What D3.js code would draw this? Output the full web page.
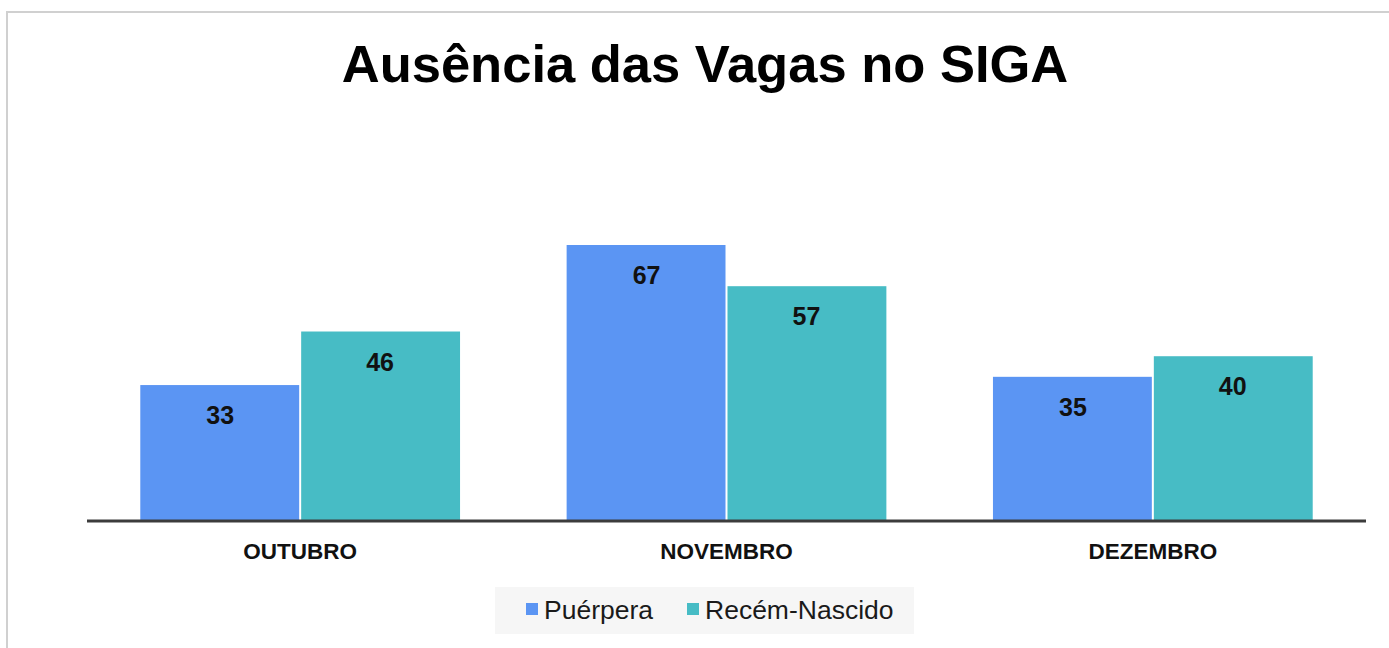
<!DOCTYPE html>
<html>
<head>
<meta charset="utf-8">
<script src="https://cdn.jsdelivr.net/npm/d3@7"></script>
<style>
  body { margin: 0; background: #ffffff; }
</style>
</head>
<body>
<div id="chart"></div>
<script>
const months = ['OUTUBRO', 'NOVEMBRO', 'DEZEMBRO']
const seriesNames = ['Puérpera', 'Recém-Nascido']
const puerpera = [33, 67, 35]
const recemNascido = [46, 57, 40]
const colors = ['#5b95f3', '#47bcc5']

const W = 1389
const H = 648
const baseY = 521

const svg = d3.select('#chart').append('svg').attr('width', W).attr('height', H)

// outer frame (only top and left visible in the crop)
svg
  .append('rect')
  .attr('x', 7)
  .attr('y', 12)
  .attr('width', W + 20)
  .attr('height', H + 20)
  .attr('fill', '#ffffff')
  .attr('stroke', '#d0d0d0')
  .attr('stroke-width', 2)

svg
  .append('text')
  .attr('x', 705)
  .attr('y', 82)
  .attr('text-anchor', 'middle')
  .attr('font-family', 'Liberation Sans, Arial, sans-serif')
  .attr('font-size', 52.5)
  .attr('font-weight', 'bold')
  .attr('fill', '#000000')
  .text('Ausência das Vagas no SIGA')

const x0 = d3.scaleBand().domain(months).range([87, 1366]).paddingInner(0.25).paddingOuter(0.125)
const x1 = d3.scaleBand().domain(seriesNames).range([0, x0.bandwidth()])
const y = d3.scaleLinear().domain([0, 67]).range([baseY, 245])

const rows = months.map((m, i) => ({ month: m, values: [puerpera[i], recemNascido[i]] }))

const groups = svg
  .selectAll('g.group')
  .data(rows)
  .join('g')
  .attr('class', 'group')
  .attr('transform', (d) => `translate(${x0(d.month)},0)`)

groups
  .selectAll('rect')
  .data((d) => d.values.map((v, j) => ({ name: seriesNames[j], value: v, j })))
  .join('rect')
  .attr('x', (d) => x1(d.name) + (d.j === 1 ? 1 : 0))
  .attr('y', (d) => y(d.value))
  .attr('width', x1.bandwidth() - 1)
  .attr('height', (d) => baseY - y(d.value))
  .attr('fill', (d) => colors[d.j])

groups
  .selectAll('text')
  .data((d) => d.values.map((v, j) => ({ name: seriesNames[j], value: v })))
  .join('text')
  .attr('x', (d) => x1(d.name) + x1.bandwidth() / 2)
  .attr('y', (d) => y(d.value) + 39)
  .attr('text-anchor', 'middle')
  .attr('font-family', 'Liberation Sans, Arial, sans-serif')
  .attr('font-size', 25)
  .attr('font-weight', 'bold')
  .attr('fill', '#111111')
  .text((d) => d.value)

// baseline
svg
  .append('line')
  .attr('x1', 87)
  .attr('x2', 1366)
  .attr('y1', baseY)
  .attr('y2', baseY)
  .attr('stroke', '#3c3c3c')
  .attr('stroke-width', 3)

svg
  .selectAll('text.cat')
  .data(months)
  .join('text')
  .attr('class', 'cat')
  .attr('x', (d) => x0(d) + x0.bandwidth() / 2)
  .attr('y', 559)
  .attr('text-anchor', 'middle')
  .attr('font-family', 'Liberation Sans, Arial, sans-serif')
  .attr('font-size', 22.5)
  .attr('font-weight', 'bold')
  .attr('fill', '#111111')
  .text((d) => d)

// legend
const legend = svg.append('g')
legend
  .append('rect')
  .attr('x', 495)
  .attr('y', 587)
  .attr('width', 419)
  .attr('height', 47)
  .attr('fill', '#f6f6f6')

const legendX = [526, 687]
seriesNames.forEach((name, i) => {
  legend
    .append('rect')
    .attr('x', legendX[i])
    .attr('y', 603)
    .attr('width', 12)
    .attr('height', 12)
    .attr('fill', colors[i])
  legend
    .append('text')
    .attr('x', legendX[i] + 18)
    .attr('y', 619)
    .attr('font-family', 'Liberation Sans, Arial, sans-serif')
    .attr('font-size', 26.5)
    .attr('fill', '#1a1a1a')
    .text(name)
})
</script>
</body>
</html>
